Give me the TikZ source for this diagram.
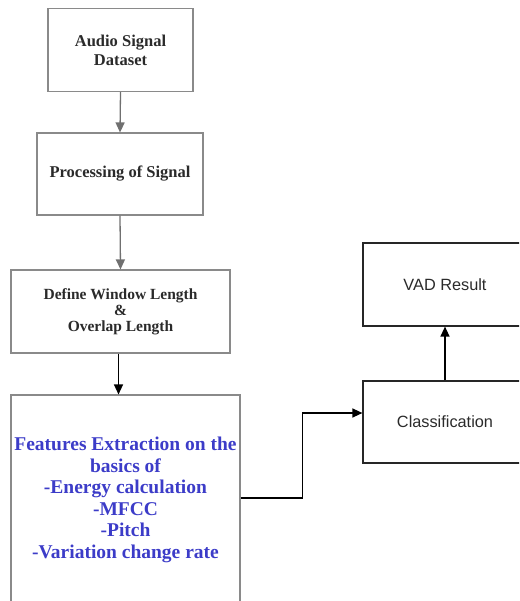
\documentclass[tikz,border=0pt]{standalone}
\usepackage{fontspec}
\setmainfont{Liberation Serif}
\setsansfont{Liberation Sans}
\usetikzlibrary{arrows.meta}
\definecolor{boxgray}{HTML}{8A8A8A}
\definecolor{arrgray}{HTML}{707070}
\definecolor{featblue}{HTML}{3C3CC8}
\definecolor{txtgray}{HTML}{2A2A2A}
\begin{document}
\begin{tikzpicture}[x=1pt,y=-1pt,
  graybox/.style={draw=boxgray, line width=1.1pt, align=center, inner sep=0pt,
    font=\bfseries\fontsize{16.5}{19}\selectfont, text=txtgray},
  darkbox/.style={draw=black!85, line width=1.2pt, align=center, inner sep=0pt,
    font=\sffamily\fontsize{16.3}{18}\selectfont, text=txtgray},
  grayarr/.style={draw=arrgray, line width=1.3pt, -{Triangle[length=10pt,width=9pt]}},
  blackarr/.style={draw=black, line width=1.3pt, -{Triangle[length=10pt,width=9pt]}}]
\useasboundingbox (0,0) rectangle (519,601);
\clip (0,0) rectangle (519,601);
\node[graybox, minimum width=145pt, minimum height=83pt] (b1) at (120.5,50) {Audio Signal\\Dataset};
\node[graybox, minimum width=166pt, minimum height=82pt] (b2) at (120,174) {Processing of Signal};
\node[graybox, minimum width=219pt, minimum height=83pt, font=\bfseries\fontsize{15.5}{16}\selectfont] (b3) at (120.5,311.5) {Define Window Length\\\&\\Overlap Length};
\node[graybox, minimum width=229pt, minimum height=210pt, text=featblue, font=\bfseries\fontsize{19.5}{21.5}\selectfont] (b4) at (125.5,500) {Features Extraction on the\\basics of\\-Energy calculation\\-MFCC\\-Pitch\\-Variation change rate};
\node[darkbox, minimum width=164pt, minimum height=83pt] (vad) at (445,284.5) {VAD Result};
\node[darkbox, minimum width=164pt, minimum height=82pt] (cls) at (445,422) {Classification};
\draw[grayarr] (b1.south) -- (b2.north);
\draw[grayarr] (b2.south) -- (b3.north);
\draw[blackarr] ([xshift=-2pt]b3.south) -- ([xshift=-2pt]b3.south |- b4.north);
\draw[blackarr] (cls.north) -- (vad.south);
\draw[blackarr] ([yshift=2pt]b4.east) -- ++(62,0) |- ([yshift=9pt]cls.west);
\end{tikzpicture}
\end{document}
